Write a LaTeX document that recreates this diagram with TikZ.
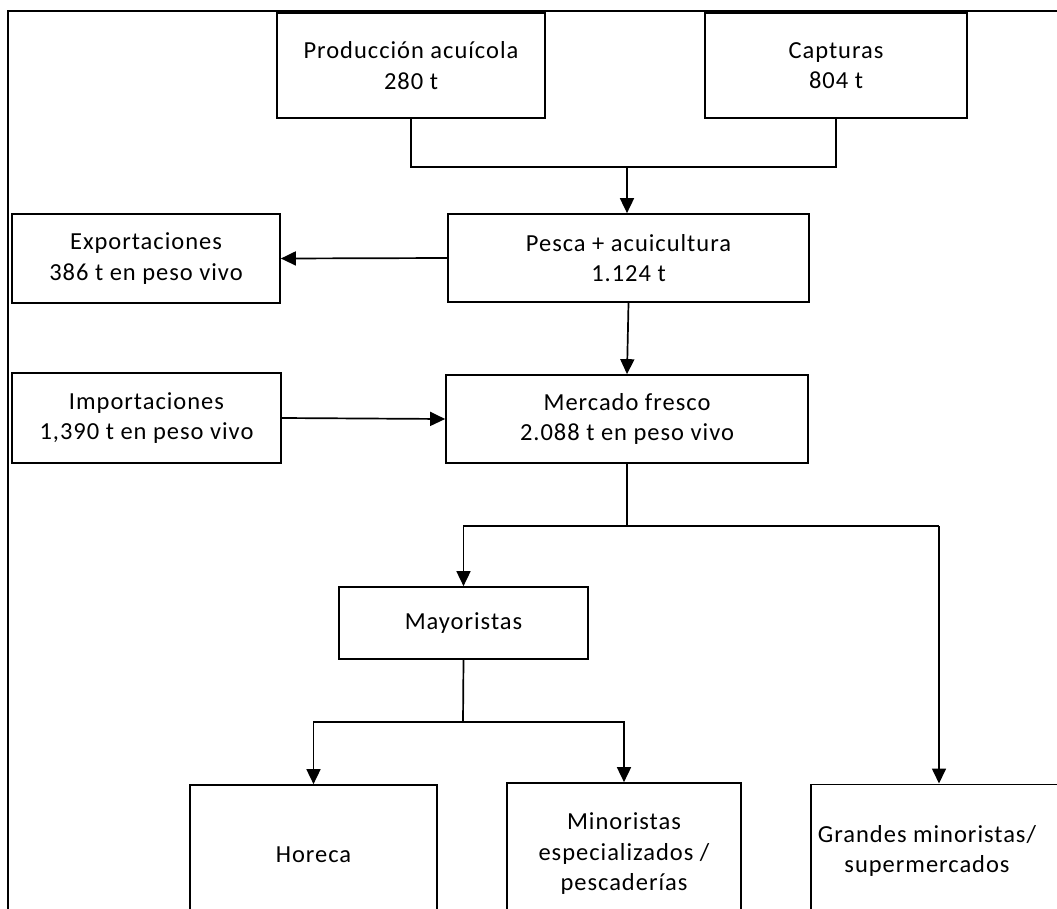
\documentclass[tikz,border=0pt]{standalone}
\usepackage{fontspec}
\setmainfont{Carlito}[LetterSpace=4.0]
\usetikzlibrary{arrows.meta}
\begin{document}
\begin{tikzpicture}[x=1pt,y=-1pt,
  box/.style={draw, line width=1.7pt, align=center, inner sep=0pt,
    font=\fontsize{24.5}{30.5}\selectfont},
  conn/.style={line width=1.7pt},
  arr/.style={line width=1.7pt, -{Triangle[length=15pt,width=14pt]}}]
\useasboundingbox (0,0) rectangle (1057,908);
\clip (0,0) rectangle (1057,908);
\fill[white] (0,0) rectangle (1057,908);
% outer frame
\draw[line width=2.4pt] (8,920) -- (8,11) -- (1070,11);
% boxes
\node[box, minimum width=268pt, minimum height=105pt] (prod) at (411,65.5) {Producción acuícola\\280 t};
\node[box, minimum width=262pt, minimum height=105pt] (capt) at (836,65.5) {Capturas\\804 t};
\node[box, minimum width=361pt, minimum height=88pt] (pesca) at (628.5,258) {Pesca + acuicultura\\1.124 t};
\node[box, minimum width=268pt, minimum height=89pt] (expo) at (146,258.5) {Exportaciones\\386 t en peso vivo};
\node[box, minimum width=362pt, minimum height=88pt] (merc) at (627,419) {Mercado fresco\\2.088 t en peso vivo};
\node[box, minimum width=269pt, minimum height=90pt] (impo) at (146.5,418) {Importaciones\\1,390 t en peso vivo};
\node[box, minimum width=249pt, minimum height=72pt] (mayo) at (463.5,623) {Mayoristas};
\node[box, minimum width=247pt, minimum height=140pt] (horeca) at (313.5,855) {Horeca};
\node[box, minimum width=234pt, minimum height=142pt] (mino) at (624,854) {Minoristas\\especializados /\\pescaderías};
\node[box, minimum width=265pt, minimum height=142pt, anchor=north west] (grandes) at (810,783.5) {};
\node[font=\fontsize{24.5}{30.5}\selectfont, align=center, inner sep=0pt] (grtext) at (927,851) {Grandes minoristas/\\supermercados};
% connectors
\coordinate (j1) at (627,167);
\draw[conn] (prod.south) |- (j1) -| (capt.south);
\draw[arr] (j1) -- (j1 |- pesca.north);
\draw[arr] (pesca.west) -- (expo.east);
\draw[arr] (pesca.south) -- (merc.north);
\draw[arr] (impo.east) -- (merc.west);
\coordinate (j2) at (627,526);
\coordinate (j2r) at (939,526);
\draw[conn] (merc.south) -- (j2);
\draw[arr] (j2) -| (mayo.north);
\draw[conn] (j2) -- (j2r);
\draw[arr] (j2r) -- (j2r |- grandes.north);
\coordinate (j3) at (463,722);
\draw[conn] (mayo.south) -- (j3);
\draw[arr] (j3) -| (horeca.north);
\draw[arr] (j3) -| (mino.north);
\end{tikzpicture}
\end{document}
